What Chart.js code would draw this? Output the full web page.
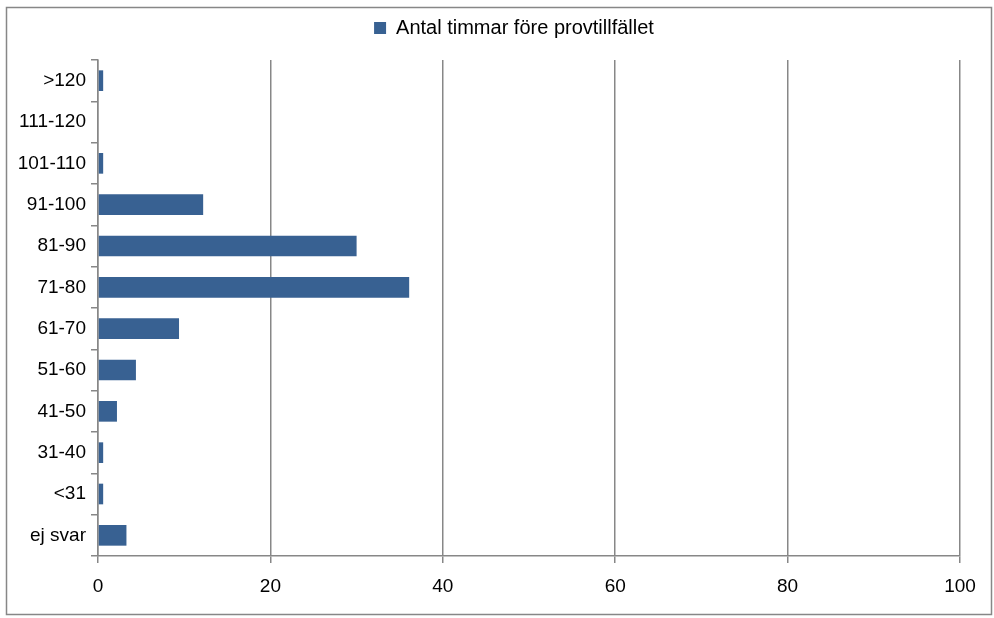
<!DOCTYPE html>
<html>
<head>
<meta charset="utf-8">
<script src="https://cdn.jsdelivr.net/npm/chart.js@4"></script>
<style>
  html, body { margin: 0; padding: 0; background: #fff; }
  #wrap { width: 994px; height: 618px; position: relative; }
</style>
</head>
<body>
<div id="wrap"><canvas id="hoursChart" width="994" height="618"></canvas></div>
<script>
const categories = ["ej svar", "<31", "31-40", "41-50", "51-60", "61-70", "71-80", "81-90", "91-100", "101-110", "111-120", ">120"];
const hoursShare = [3.3, 0.6, 0.6, 2.2, 4.4, 9.4, 36.1, 30.0, 12.2, 0.6, 0, 0.6];
const seriesLabel = "Antal timmar före provtillfället";
const xTicks = [0, 20, 40, 60, 80, 100];

const gray = "#878787";

// outer frame like the spreadsheet chart border
const frame = {
  id: "frame",
  beforeDraw(chart) {
    const c = chart.ctx;
    c.save();
    c.fillStyle = "#fff";
    c.fillRect(0, 0, chart.width, chart.height);
    c.strokeStyle = gray;
    c.lineWidth = 1.5;
    c.strokeRect(6.5, 7.5, 985, 607);
    c.restore();
  }
};

// a bit more room between legend and plot, and nudge legend right
const legendGap = {
  id: "legendGap",
  beforeLayout(chart) {
    const lg = chart.legend;
    if (lg && !lg._gapPatched) {
      const fit = lg.fit;
      lg.fit = function () {
        fit.call(this);
        this.height += 12;
      };
      lg._gapPatched = true;
    }
  },
  afterLayout(chart) {
    const lg = chart.legend;
    if (lg) {
      lg.left += 29;
      lg.right += 29;
    }
  }
};

Chart.defaults.font.family = "'Liberation Sans', Arial, sans-serif";
Chart.defaults.font.size = 19;
Chart.defaults.color = "#000";

new Chart(document.getElementById("hoursChart"), {
  type: "bar",
  data: {
    labels: categories,
    datasets: [{
      label: seriesLabel,
      data: hoursShare,
      backgroundColor: "#386192",
      borderWidth: 0,
      barPercentage: 0.5,
      categoryPercentage: 1
    }]
  },
  options: {
    indexAxis: "y",
    responsive: false,
    animation: false,
    layout: { padding: { left: 10, right: 34, top: 0, bottom: 0 } },
    scales: {
      x: {
        min: 0,
        max: 100,
        afterBuildTicks: function (scale) {
          scale.ticks = xTicks.map(v => ({ value: v }));
        },
        afterFit: function (scale) { scale.height = 62; },
        grid: { color: gray, lineWidth: 1.5, tickLength: 7 },
        border: { color: gray, width: 1.5 },
        ticks: { padding: 12 }
      },
      y: {
        reverse: true,
        afterFit: function (scale) { scale.width = 88; },
        grid: { drawOnChartArea: false, color: gray, lineWidth: 1.5, tickLength: 7, offset: true },
        border: { color: gray, width: 1.5 },
        ticks: { padding: 5 }
      }
    },
    plugins: {
      legend: {
        position: "top",
        labels: { boxWidth: 12, boxHeight: 12, padding: 18, font: { size: 20 } }
      },
      tooltip: { enabled: false }
    }
  },
  plugins: [frame, legendGap]
});
</script>
</body>
</html>
